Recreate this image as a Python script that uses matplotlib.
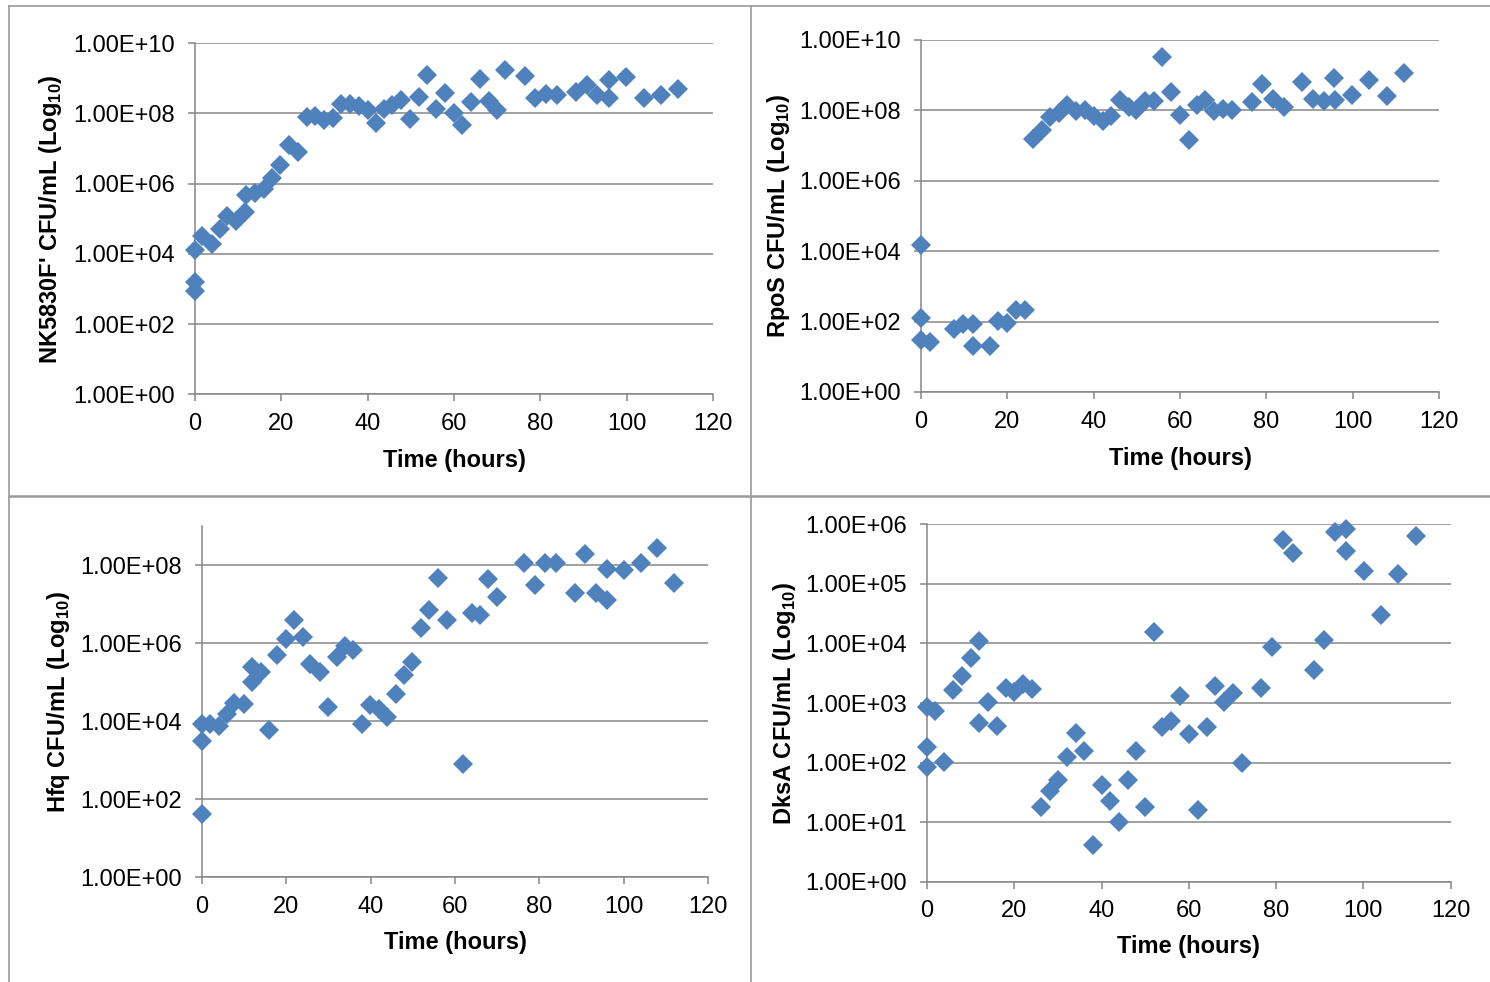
import numpy as np
import matplotlib
matplotlib.use("Agg")
import matplotlib.pyplot as plt
from matplotlib.lines import Line2D
from matplotlib.ticker import FixedLocator, FuncFormatter, NullLocator
from matplotlib.transforms import blended_transform_factory

plt.rcParams['font.family'] = ['Liberation Sans', 'DejaVu Sans']
plt.rcParams['mathtext.fontset'] = 'custom'
plt.rcParams['mathtext.rm'] = 'Liberation Sans'
plt.rcParams['mathtext.bf'] = 'Liberation Sans:bold'

# values: time in hours, counts as log10(CFU/mL)
nk_hours = [0, 0, 0, 1.6, 3.9, 5.9, 7.5, 9.6, 11.6, 11.9, 13.8, 15.9, 17.9,
            19.7, 21.8, 23.9, 26, 27.8, 29.9, 31.9, 33.9, 36, 38, 40, 41.9,
            43.7, 45.7, 47.7, 49.8, 51.8, 53.8, 55.8, 57.9, 59.9, 61.9, 64,
            66, 68, 70, 71.9, 76.4, 78.8, 81.4, 83.8, 88.3, 90.7, 93.2, 95.8,
            96, 99.8, 103.9, 108, 111.9]
nk_log = [4.12, 3.20, 2.95, 4.50, 4.28, 4.72, 5.07, 4.94, 5.18, 5.68, 5.73,
          5.84, 6.16, 6.54, 7.11, 6.89, 7.89, 7.93, 7.82, 7.87, 8.27, 8.27,
          8.20, 8.10, 7.72, 8.12, 8.24, 8.39, 7.84, 8.48, 9.10, 8.12, 8.58,
          8.00, 7.68, 8.34, 8.98, 8.37, 8.10, 9.24, 9.07, 8.43, 8.56, 8.53,
          8.62, 8.81, 8.53, 8.96, 8.43, 9.05, 8.43, 8.53, 8.69]

rpos_hours = [0, 0, 0, 2.1, 7.6, 9.8, 12, 12, 15.9, 17.8, 19.9, 22, 24, 25.9,
              28, 29.8, 31.9, 33.8, 35.9, 37.9, 40, 42.1, 44.1, 46, 48.1,
              49.9, 52, 54, 55.9, 58, 60.1, 62, 63.9, 65.9, 67.8, 70, 72.1,
              76.6, 78.9, 81.6, 84.1, 88.2, 90.7, 93.4, 95.7, 95.9, 99.8,
              103.8, 107.9, 111.8]
rpos_log = [4.19, 2.11, 1.49, 1.43, 1.78, 1.92, 1.92, 1.30, 1.30, 2.01, 1.97,
            2.34, 2.32, 7.18, 7.45, 7.81, 7.94, 8.16, 7.97, 8.02, 7.85, 7.71,
            7.85, 8.30, 8.11, 8.00, 8.28, 8.28, 9.53, 8.53, 7.87, 7.16, 8.16,
            8.30, 7.97, 8.03, 8.02, 8.25, 8.75, 8.32, 8.11, 8.82, 8.33, 8.28,
            8.91, 8.30, 8.44, 8.87, 8.41, 9.07]

hfq_hours = [0, 0, 0, 1.9, 4, 5.9, 7.6, 9.9, 11.9, 11.9, 14, 15.9, 17.9, 19.9,
             21.9, 23.9, 25.7, 27.9, 29.9, 31.9, 33.9, 35.9, 37.9, 39.9, 41.9,
             43.9, 45.9, 47.9, 49.9, 51.9, 53.9, 56, 58, 62, 64, 66, 67.9,
             69.9, 76.4, 79, 81.4, 83.9, 88.4, 90.9, 93.4, 96, 96, 100, 104,
             108, 112]
hfq_log = [3.93, 3.50, 1.61, 3.93, 3.87, 4.18, 4.46, 4.44, 5.00, 5.38, 5.26,
           3.77, 5.68, 6.10, 6.60, 6.16, 5.47, 5.26, 4.36, 5.64, 5.92, 5.81,
           3.93, 4.40, 4.31, 4.11, 4.68, 5.19, 5.51, 6.39, 6.84, 7.66, 6.60,
           2.91, 6.76, 6.71, 7.63, 7.17, 8.04, 7.49, 8.06, 8.04, 7.27, 8.28,
           7.27, 7.91, 7.10, 7.87, 8.04, 8.43, 7.53]

dksa_hours = [0, 1.9, 0, 0, 3.9, 5.9, 8, 10, 12, 12, 14, 16, 18, 20, 22, 24,
              26.1, 28.1, 30.1, 32.1, 34.1, 36.1, 38, 40, 42, 44, 46, 48, 50,
              52, 53.9, 56, 58, 60.1, 62.1, 64.1, 66, 68.1, 70.1, 72.1, 76.6,
              79, 81.6, 84, 88.6, 91.1, 93.5, 96.1, 96.1, 100.1, 104.1, 108,
              112]
dksa_log = [2.94, 2.87, 2.26, 1.92, 2.01, 3.21, 3.46, 3.76, 4.04, 2.66, 3.01,
            2.61, 3.26, 3.19, 3.32, 3.23, 1.25, 1.53, 1.71, 2.10, 2.50, 2.20,
            0.61, 1.62, 1.35, 1.00, 1.71, 2.20, 1.25, 4.20, 2.59, 2.70, 3.12,
            2.48, 1.21, 2.59, 3.28, 3.01, 3.17, 2.00, 3.25, 3.94, 5.74, 5.51,
            3.56, 4.06, 5.87, 5.92, 5.55, 5.21, 4.48, 5.16, 5.81]

x_ticks = [0, 20, 40, 60, 80, 100, 120]

BLUE = '#4F81BD'
GREY = '#868686'
W, H = 1490, 982
FS = 17


def rect(x0, x1, ytop, ybot):
    return [x0 / W, 1 - ybot / H, (x1 - x0) / W, (ybot - ytop) / H]


fig = plt.figure(figsize=(W / 100, H / 100), dpi=100)

# (hours, log values, name, axes rect, top decade, tick step, ylabel x px, xlabel y px)
panels = [
    (nk_hours, nk_log, "NK5830F'", rect(195, 713, 43.3, 394.3), 10, 2, 51, 460),
    (rpos_hours, rpos_log, "RpoS", rect(921, 1439, 40, 392), 10, 2, 778, 458),
    (hfq_hours, hfq_log, "Hfq", rect(202, 708, 526, 877), 9, 2, 58, 942),
    (dksa_hours, dksa_log, "DksA", rect(927, 1450.5, 524.3, 881.7), 6, 1, 784, 946),
]

for hours, logs, name, r, top, step, ylx, xly in panels:
    ax = fig.add_axes(r)
    ax.set_yscale('log')
    ax.set_ylim(1, 10.0 ** top)
    ax.set_xlim(0, 120)
    ax.plot(hours, 10.0 ** np.array(logs), 'D', color=BLUE, ms=9.7,
            mew=0, clip_on=False, zorder=3)

    ax.yaxis.set_major_locator(FixedLocator([10.0 ** k for k in range(0, top + 1, step)]))
    ax.yaxis.set_minor_locator(NullLocator())
    ax.yaxis.set_major_formatter(FuncFormatter(lambda v, p: f"{v:.2E}"))
    ax.xaxis.set_major_locator(FixedLocator(x_ticks))

    ax.yaxis.grid(True, color=GREY, lw=1.1)
    ax.set_axisbelow(True)
    for s in ['top', 'right']:
        ax.spines[s].set_visible(False)
    for s in ['left', 'bottom']:
        ax.spines[s].set_color(GREY)
        ax.spines[s].set_linewidth(1.1)
    ax.tick_params(direction='out', length=5, width=1.1, color=GREY,
                   labelsize=FS, labelcolor='black')
    ax.tick_params(axis='x', pad=8.5)
    ax.tick_params(axis='y', pad=9.5)

    ax.set_ylabel(name + " CFU/mL (Log$_{\\mathbf{10}}$)", fontsize=FS,
                  fontweight='bold')
    ax.yaxis.label.set_va('center')
    ax.yaxis.set_label_coords(ylx / W, 0.5,
                              transform=blended_transform_factory(fig.transFigure, ax.transAxes))
    ax.set_xlabel("Time (hours)", fontsize=FS, fontweight='bold')
    ax.xaxis.label.set_va('center')
    ax.xaxis.set_label_coords(0.5, 1 - xly / H,
                              transform=blended_transform_factory(ax.transAxes, fig.transFigure))

# panel borders
border = '#9A9A9A'
fig.add_artist(Line2D([9 / W, 1], [1 - 6 / H, 1 - 6 / H], color=border, lw=1.2,
                      transform=fig.transFigure))
fig.add_artist(Line2D([9 / W, 1], [1 - 495.5 / H, 1 - 495.5 / H], color=border, lw=1.8,
                      transform=fig.transFigure))
fig.add_artist(Line2D([9 / W, 9 / W], [0, 1 - 6 / H], color=border, lw=1.2,
                      transform=fig.transFigure))
fig.add_artist(Line2D([751 / W, 751 / W], [0, 1 - 6 / H], color=border, lw=1.2,
                      transform=fig.transFigure))

fig.savefig("out.png", dpi=100)
